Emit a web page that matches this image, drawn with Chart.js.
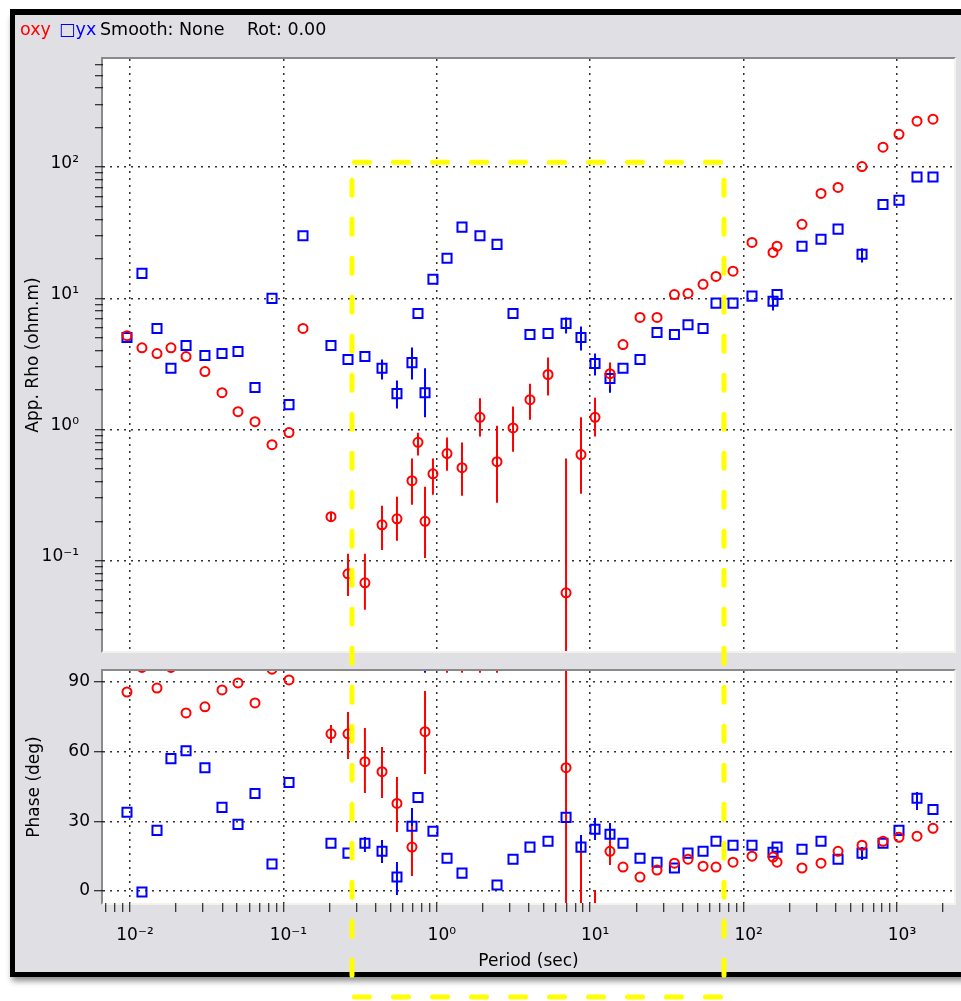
<!DOCTYPE html>
<html><head><meta charset="utf-8">
<script src="https://cdn.jsdelivr.net/npm/chart.js@4.4.1/dist/chart.umd.min.js"></script>
<style>
html,body{margin:0;padding:0;background:#fff;width:961px;height:1001px;overflow:hidden;font-family:"DejaVu Sans",sans-serif;}
#win{position:absolute;left:10px;top:9px;width:960px;height:968px;box-sizing:border-box;background:#e0e0e4;border-top:6px solid #000;border-left:5px solid #000;border-bottom:5px solid #000;box-shadow:0 6px 6px -2px rgba(0,0,0,0.45);z-index:0;}
.frame{position:absolute;background:#fff;border-style:solid;border-width:2px;border-color:#8a8a8a #f4f2ea #f4f2ea #8a8a8a;z-index:1;}
canvas{position:absolute;left:0;z-index:2;}
.hd{position:absolute;top:18px;font-size:17.5px;line-height:22px;white-space:pre;z-index:3;}
#ov{position:absolute;left:0;top:0;z-index:4;}
</style></head>
<body>
<div id="win"></div>
<div class="frame" id="f1"></div>
<div class="frame" id="f2"></div>
<span class="hd" style="left:20px;color:#f00">oxy</span>
<span class="hd" style="left:59px;color:#00f">□yx</span>
<span class="hd" style="left:100px;color:#000">Smooth: None</span>
<span class="hd" style="left:247px;color:#000">Rot: 0.00</span>
<canvas id="c1" width="961" height="700" style="top:0px"></canvas>
<canvas id="c2" width="961" height="381" style="top:620px"></canvas>
<svg id="ov" width="961" height="1001"></svg>
<script>
// ---------------- data ----------------
const periods = [0.00956, 0.01197, 0.0150, 0.0185, 0.0232, 0.0308, 0.0398, 0.0506, 0.0653, 0.0843,
  0.1088, 0.1342, 0.2043, 0.2637, 0.340, 0.4395, 0.550, 0.689, 0.754, 0.838,
  0.944, 1.166, 1.460, 1.912, 2.469, 3.14, 4.05, 5.31, 6.96, 8.71,
  10.75, 13.46, 16.36, 21.12, 27.26, 35.4, 43.4, 54.4, 66.1, 85.3,
  113.4, 155.5, 165.2, 240.3, 319.6, 412.6, 591.4, 810.4, 1030, 1350, 1716];

const rhoXy = [5.2, 4.2, 3.8, 4.2, 3.6, 2.77, 1.91, 1.37, 1.15, 0.767,
  0.95, 5.9, 0.217, 0.0796, 0.068, 0.188, 0.209, 0.408, 0.80, 0.20,
  0.46, 0.656, 0.513, 1.24, 0.57, 1.03, 1.69, 2.63, 0.057, 0.645,
  1.24, 2.67, 4.45, 7.16, 7.16, 10.7, 10.9, 12.8, 14.7, 16.1,
  26.7, 22.4, 25, 36.7, 63, 70, 101, 142, 178, 224, 232];

const rhoYx = [5.04, 15.5, 5.9, 2.93, 4.37, 3.67, 3.8, 3.93, 2.09, 10,
  1.55, 30, 4.37, 3.42, 3.61, 2.93, 1.88, 3.24, 7.67, 1.91,
  14.0, 20.2, 34.9, 30, 25.8, 7.67, 5.3, 5.4, 6.45, 5.04,
  3.19, 2.45, 2.93, 3.42, 5.5, 5.3, 6.3, 5.9, 9.2, 9.2,
  10.4, 9.5, 10.7, 25, 28.2, 33.7, 21.7, 52, 56, 84, 84];

const phaseXy = [85.7, 96.3, 87.4, 96.3, 76.7, 79.3, 86.6, 89.6, 81, 95.5,
  90.9, null, 67.7, 67.7, 55.7, 51.4, 37.7, 18.9, null, 68.6,
  null, 101, 101, 101, 101, null, null, null, 53.1, -20,
  -10, 17.1, 10.3, 6.0, 9.0, 12, 13.7, 10.7, 10.3, 12.4,
  15, 14.6, 12.4, 9.9, 12, 17.1, 19.7, 21.4, 23.1, 23.6, 27];

const phaseYx = [33.9, -0.4, 26.1, 57, 60.4, 53.1, 36, 28.7, 42, 11.6,
  46.7, null, 20.6, 16.3, 20.6, 17.1, 6, 27.9, 40.3, 101,
  25.7, 14.1, 7.7, null, 2.6, 13.7, 18.9, 21.4, 31.7, 18.9,
  26.6, 24.4, 20.6, 14.1, 12.4, 9.9, 16.3, 17.1, 21.4, 19.7,
  19.7, 16.7, 18.9, 18, 21.4, 13.7, 16.3, 20.6, 26.1, 39.9, 35.1];

// error bars: index into periods, lower and upper bound
const errRhoXyAt = [12, 13, 14, 15, 16, 17, 18, 19, 20, 21, 22, 23, 24, 25, 26, 27, 28, 29, 30, 31];
const errRhoXyLo = [0.199, 0.054, 0.0423, 0.121, 0.142, 0.267, 0.634, 0.105, 0.319, 0.486, 0.313, 0.885, 0.277, 0.679, 1.19, 1.82, 0.001, 0.324, 0.885, 2.17];
const errRhoXyHi = [0.237, 0.113, 0.113, 0.263, 0.308, 0.601, 0.948, 0.367, 0.601, 0.869, 0.796, 1.73, 1.07, 1.50, 2.24, 3.55, 0.601, 1.24, 1.75, 3.24];

const errRhoYxAt = [15, 16, 17, 19, 28, 29, 30, 31, 41, 46];
const errRhoYxLo = [2.41, 1.45, 2.41, 1.24, 5.40, 4.01, 2.58, 1.91, 8.1, 18.8];
const errRhoYxHi = [3.42, 2.37, 4.23, 2.93, 7.16, 6.11, 3.80, 2.97, 10.5, 24.1];

const errPhXyAt = [12, 13, 14, 15, 16, 17, 19, 21, 22, 23, 24, 28, 29, 30, 31];
const errPhXyLo = [63.7, 56.8, 42.2, 40.1, 25.4, 6.5, 50.4, 94, 94, 94, 94, -200, -40, -30, 11.2];
const errPhXyHi = [71.5, 77.1, 70.2, 62.0, 49.1, 28.0, 86.1, 110, 110, 110, 110, 200, 17.6, 0.4, 22.8];

const errPhYxAt = [14, 15, 16, 17, 19, 29, 30, 31, 46, 49];
const errPhYxLo = [16.8, 12.1, -1.7, 20.7, 94, 13.7, 22, 20.7, 13.3, 34.9];
const errPhYxHi = [23.3, 22, 12.5, 35.7, 110, 24.1, 31.4, 29.3, 18.9, 42.6];

// axes
const periodAxisMin = 0.00667, periodAxisMax = 2352;
const rhoAxisMin = 0.02055, rhoAxisMax = 667;
const phaseAxisMin = -5.17, phaseAxisMax = 94.74;
const tickMantissas = [1, 2, 3, 4, 5, 6, 7, 8, 9];
const tickDecades = [-3, -2, -1, 0, 1, 2, 3];
const phaseTicks = [0, 30, 60, 90];
const expSup = {'-2': '\u207B\u00B2', '-1': '\u207B\u00B9', '0': '\u2070', '1': '\u00B9', '2': '\u00B2', '3': '\u00B3'};

// annotation box
const boxPeriodFrom = 0.28, boxPeriodTo = 74.5, boxRhoTop = 109;

// ---------------- helpers ----------------
const RED = '#ff0000', BLUE = '#0000ff', GRID = '#303030';
function logTickList(lo, hi) {
  const out = [];
  tickDecades.forEach(e => tickMantissas.forEach(m => {
    const v = m * Math.pow(10, e);
    if (v >= lo && v <= hi) out.push(v);
  }));
  return out;
}
const isDecade = v => Math.abs(Math.log10(v) - Math.round(Math.log10(v))) < 1e-9;
const decadeLabel = v => isDecade(v) ? '10' + expSup[String(Math.round(Math.log10(v)))] : '';
const periodTicks = logTickList(periodAxisMin, periodAxisMax);
const rhoTicks = logTickList(rhoAxisMin, rhoAxisMax);
const gridDecade = c => (c.tick && isDecade(c.tick.value)) ? GRID : 'rgba(0,0,0,0)';

function pts(ys) { return periods.map((t, i) => ({x: t, y: ys[i]})); }
function errPts(at, lo, hi) {
  const out = [];
  at.forEach((k, j) => { out.push({x: periods[k], y: lo[j]}, {x: periods[k], y: hi[j]}, {x: periods[k], y: null}); });
  return out;
}
function markers(ys, color, style, r) {
  return {type: 'scatter', data: pts(ys), showLine: false, pointStyle: style, pointRadius: r,
    pointBorderWidth: 2, borderWidth: 2, borderColor: color, pointBorderColor: color,
    backgroundColor: 'rgba(0,0,0,0)', pointBackgroundColor: 'rgba(0,0,0,0)', clip: 0};
}
function errLine(at, lo, hi, color) {
  return {type: 'line', data: errPts(at, lo, hi), showLine: true, spanGaps: false, pointRadius: 0,
    borderWidth: 2, borderColor: color, tension: 0, clip: 0, fill: false};
}

Chart.defaults.font.family = '"DejaVu Sans", "Liberation Sans", sans-serif';
Chart.defaults.font.size = 17;
Chart.defaults.color = '#000';

const common = {
  responsive: false, animation: false, devicePixelRatio: 1, events: [],
  plugins: {legend: {display: false}, tooltip: {enabled: false}}
};

// ---------------- rho chart ----------------
const rhoChart = new Chart(document.getElementById('c1'), {
  type: 'scatter',
  data: {datasets: [
    markers(rhoXy, RED, 'circle', 4.5),
    markers(rhoYx, BLUE, 'rect', 6.4),
    errLine(errRhoXyAt, errRhoXyLo, errRhoXyHi, RED),
    errLine(errRhoYxAt, errRhoYxLo, errRhoYxHi, BLUE)
  ]},
  options: Object.assign({}, common, {
    layout: {padding: {left: 0, top: 59, right: 7, bottom: 49}, autoPadding: false},
    scales: {
      x: {type: 'logarithmic', position: 'bottom', min: periodAxisMin, max: periodAxisMax, bounds: 'data',
        afterBuildTicks: s => { s.ticks = periodTicks.map(v => ({value: v})); },
        afterFit: s => { s.height = 0; },
        ticks: {display: false, autoSkip: false},
        grid: {drawTicks: false, color: gridDecade, lineWidth: 1.5},
        border: {display: false, dash: [2, 5]}},
      y: {type: 'logarithmic', position: 'left', min: rhoAxisMin, max: rhoAxisMax, bounds: 'data',
        afterBuildTicks: s => { s.ticks = rhoTicks.map(v => ({value: v})); },
        afterFit: s => { s.width = 103; },
        ticks: {autoSkip: false, padding: 16, labelOffset: -4, callback: v => decadeLabel(v)},
        grid: {tickLength: 8, tickColor: '#000', tickWidth: 1, color: gridDecade, lineWidth: 1.5},
        border: {display: false, dash: [2, 5]},
        title: {display: true, text: 'App. Rho (ohm.m)', padding: {top: 23, bottom: 0}}}
    }
  })
});

// ---------------- phase chart ----------------
const phaseChart = new Chart(document.getElementById('c2'), {
  type: 'scatter',
  data: {datasets: [
    markers(phaseXy, RED, 'circle', 4.5),
    markers(phaseYx, BLUE, 'rect', 6.4),
    errLine(errPhXyAt, errPhXyLo, errPhXyHi, RED),
    errLine(errPhYxAt, errPhYxLo, errPhYxHi, BLUE)
  ]},
  options: Object.assign({}, common, {
    layout: {padding: {left: 0, top: 51, right: 7, bottom: 29}, autoPadding: false},
    scales: {
      x: {type: 'logarithmic', position: 'bottom', min: periodAxisMin, max: periodAxisMax, bounds: 'data',
        afterBuildTicks: s => { s.ticks = periodTicks.map(v => ({value: v})); },
        afterFit: s => { s.height = 69; },
        ticks: {autoSkip: false, maxRotation: 0, minRotation: 0, padding: 13, labelOffset: 5, callback: v => decadeLabel(v)},
        grid: {tickLength: 9, tickColor: '#000', tickWidth: 1, color: gridDecade, lineWidth: 1.5},
        border: {display: false, dash: [2, 5]},
        title: {display: true, text: 'Period (sec)', padding: {top: 0, bottom: 0}}},
      y: {type: 'linear', position: 'left', min: phaseAxisMin, max: phaseAxisMax, bounds: 'data',
        afterBuildTicks: s => { s.ticks = phaseTicks.map(v => ({value: v})); },
        afterFit: s => { s.width = 103; },
        ticks: {autoSkip: false, padding: 4, callback: v => String(v)},
        grid: {tickLength: 9, tickColor: '#000', tickWidth: 1, color: GRID, lineWidth: 1.5},
        border: {display: false, dash: [2, 5]},
        title: {display: true, text: 'Phase (deg)', padding: {top: 24, bottom: 0}}}
    }
  })
});

// ---------------- frames around plot areas ----------------
function placeFrame(id, chart, topOffset) {
  const ca = chart.chartArea, f = document.getElementById(id);
  f.style.left = (ca.left - 2) + 'px';
  f.style.top = (topOffset + ca.top - 2) + 'px';
  f.style.width = (ca.right - ca.left) + 'px';
  f.style.height = (ca.bottom - ca.top) + 'px';
}
placeFrame('f1', rhoChart, 0);
placeFrame('f2', phaseChart, 620);

// ---------------- yellow dashed annotation box ----------------
(function () {
  const xs = rhoChart.scales.x, ys = rhoChart.scales.y;
  const xl = xs.getPixelForValue(boxPeriodFrom), xr = xs.getPixelForValue(boxPeriodTo);
  const yt = ys.getPixelForValue(boxRhoTop), yb = 997;
  const ns = 'http://www.w3.org/2000/svg', svg = document.getElementById('ov');
  const seg = (x1, y1, x2, y2) => {
    const l = document.createElementNS(ns, 'line');
    l.setAttribute('x1', x1); l.setAttribute('y1', y1); l.setAttribute('x2', x2); l.setAttribute('y2', y2);
    l.setAttribute('stroke', '#ffff00'); l.setAttribute('stroke-width', '5');
    l.setAttribute('stroke-dasharray', '15 24'); l.setAttribute('stroke-linecap', 'round');
    svg.appendChild(l);
  };
  seg(xl + 2.5, yt, xr, yt);
  seg(xl + 2.5, yb, xr, yb);
  seg(xl, yt + 18, xl, yb - 3);
  seg(xr, yt + 18, xr, yb - 3);
})();
</script>
</body></html>
